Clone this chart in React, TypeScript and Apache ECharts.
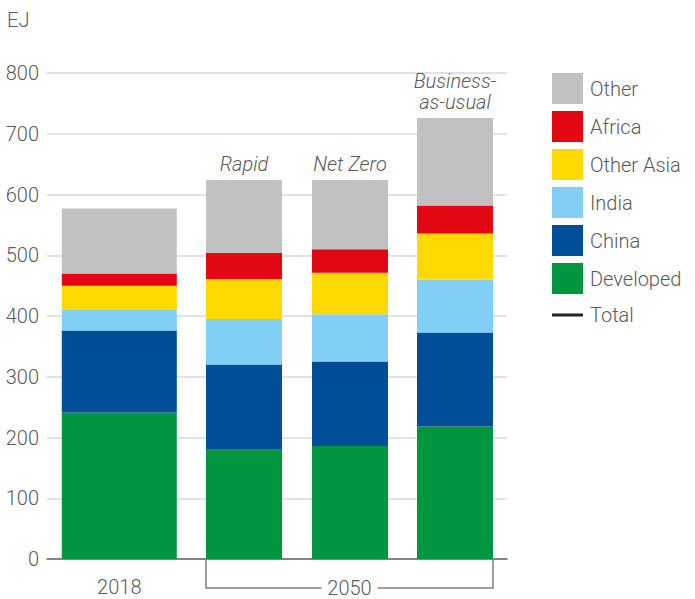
import React, { useEffect, useRef } from "react";
import * as echarts from "echarts";

// ---- data ----
const categories = ["2018", "Rapid", "Net Zero", "Business-\nas-usual"];
const groupLabel = "2050";
const developed = [241, 180, 186, 218];
const china = [135, 140, 139, 155];
const india = [34, 75, 78, 87];
const otherAsia = [40, 66, 68, 76];
const africa = [20, 43, 39, 46];
const other = [107, 120, 114, 144];
const yTicks = { min: 0, max: 800, interval: 100 };
const unitLabel = "EJ";

// ---- layout / style ----
const barCenters = [72.3, 197, 303, 408];
const barWidths = [115, 76, 76, 76];
const FONT = "Roboto, 'Liberation Sans', sans-serif";
const TEXT = "#5a5a5a";
const FS = 20;

const regions = [
  { name: "Developed", values: developed, color: "#00953f" },
  { name: "China", values: china, color: "#004e98" },
  { name: "India", values: india, color: "#82cff5" },
  { name: "Other Asia", values: otherAsia, color: "#ffd900" },
  { name: "Africa", values: africa, color: "#e30613" },
  { name: "Other", values: other, color: "#c1c1c1" },
];

export default function App() {
  const ref = useRef<HTMLDivElement>(null);
  useEffect(() => {
    document.body.style.margin = "0";
    if (!ref.current) return;
    const chart = echarts.init(ref.current, null, { renderer: "svg" });

    const base = categories.map(() => 0);
    const segSeries = regions.map((r, ri) => {
      const data = r.values.map((v, i) => {
        const b = base[i];
        base[i] += v;
        return [i, b, b + v];
      });
      const isTop = ri === regions.length - 1;
      const isBottom = ri === 0;
      return {
        type: "custom",
        name: r.name,
        itemStyle: { color: r.color },
        clip: false,
        encode: { x: 0, y: [1, 2] },
        data,
        renderItem: (params: any, api: any) => {
          const i = api.value(0);
          const cx = barCenters[i];
          const p0 = api.coord([cx, api.value(1)]);
          const p1 = api.coord([cx, api.value(2)]);
          const w = api.size([barWidths[i], 0])[0];
          const children: any[] = [
            {
              type: "rect",
              shape: { x: p0[0] - w / 2, y: p1[1], width: w, height: p0[1] - p1[1] },
              style: { fill: r.color },
            },
          ];
          if (isTop && i > 0) {
            children.push({
              type: "text",
              x: p0[0],
              y: p1[1] - 5,
              style: {
                text: categories[i],
                fill: TEXT,
                fontSize: FS,
                fontFamily: FONT,
                fontStyle: "italic",
                fontWeight: 300,
                align: "center",
                verticalAlign: "bottom",
                lineHeight: 21,
              },
            });
          }
          if (isBottom && i === 0) {
            children.push({
              type: "text",
              x: p0[0],
              y: p0[1] + 28,
              style: {
                text: categories[0],
                fill: TEXT,
                fontSize: FS,
                fontFamily: FONT,
                fontWeight: 300,
                align: "center",
                verticalAlign: "middle",
              },
            });
          }
          return { type: "group", children };
        },
      };
    });

    const bracketSeries = {
      type: "custom",
      name: "bracket",
      silent: true,
      clip: false,
      data: [[1, 3]],
      encode: { x: 0 },
      renderItem: (params: any, api: any) => {
        const a = api.value(0);
        const b = api.value(1);
        const pa = api.coord([barCenters[a], 0]);
        const pb = api.coord([barCenters[b], 0]);
        const left = pa[0] - api.size([barWidths[a], 0])[0] / 2;
        const right = pb[0] + api.size([barWidths[b], 0])[0] / 2;
        const y0 = pa[1] + 1;
        const yb = y0 + 28;
        const mid = (left + right) / 2;
        const gap = 28;
        const ls = { stroke: "#808080", lineWidth: 1.5, fill: "none" };
        return {
          type: "group",
          children: [
            { type: "polyline", shape: { points: [[left, y0], [left, yb], [mid - gap, yb]] }, style: ls },
            { type: "polyline", shape: { points: [[mid + gap, yb], [right, yb], [right, y0]] }, style: ls },
            {
              type: "text",
              x: mid,
              y: yb,
              style: {
                text: groupLabel,
                fill: TEXT,
                fontSize: FS,
                fontFamily: FONT,
                fontWeight: 300,
                align: "center",
                verticalAlign: "middle",
              },
            },
          ],
        };
      },
    };

    const totalSeries = {
      type: "line",
      name: "Total",
      data: [],
      symbol: "none",
      lineStyle: { color: "#222", width: 3 },
      itemStyle: { color: "#222" },
    };

    const legendText = { color: TEXT, fontSize: FS, fontFamily: FONT, fontWeight: 300, padding: [0, 0, 0, 2] };

    chart.setOption({
      animation: false,
      grid: { left: 47, right: 188, top: 73, bottom: 40 },
      graphic: [
        {
          type: "text",
          left: 7,
          top: 10,
          style: { text: unitLabel, fill: TEXT, fontSize: FS, fontFamily: FONT, fontWeight: 300 },
        },
      ],
      xAxis: {
        type: "value",
        min: 0,
        max: 460,
        axisLabel: { show: false },
        axisTick: { show: false },
        splitLine: { show: false },
        axisLine: { show: true, lineStyle: { color: "#666", width: 1.5 } },
      },
      yAxis: {
        type: "value",
        min: yTicks.min,
        max: yTicks.max,
        interval: yTicks.interval,
        axisLine: { show: false },
        axisTick: { show: false },
        axisLabel: { color: TEXT, fontSize: FS, fontFamily: FONT, fontWeight: 300, margin: 8 },
        splitLine: { lineStyle: { color: "#d9d9d9", width: 1.5 } },
      },
      legend: [
        {
          orient: "vertical",
          left: 552,
          top: 73,
          padding: 0,
          itemWidth: 31,
          itemHeight: 31,
          itemGap: 7,
          selectedMode: false,
          icon: "rect",
          textStyle: legendText,
          data: ["Other", "Africa", "Other Asia", "India", "China", "Developed"],
        },
        {
          orient: "vertical",
          left: 552,
          top: 305,
          padding: 0,
          itemWidth: 31,
          itemHeight: 31,
          selectedMode: false,
          symbolKeepAspect: true,
          textStyle: legendText,
          data: [{ name: "Total", icon: "path://M0,0 L31,0 L31,3 L0,3 Z" }],
        },
      ],
      series: [...segSeries, bracketSeries, totalSeries],
    });
    return () => chart.dispose();
  }, []);
  return <div ref={ref} style={{ width: 695, height: 599 }} />;
}
